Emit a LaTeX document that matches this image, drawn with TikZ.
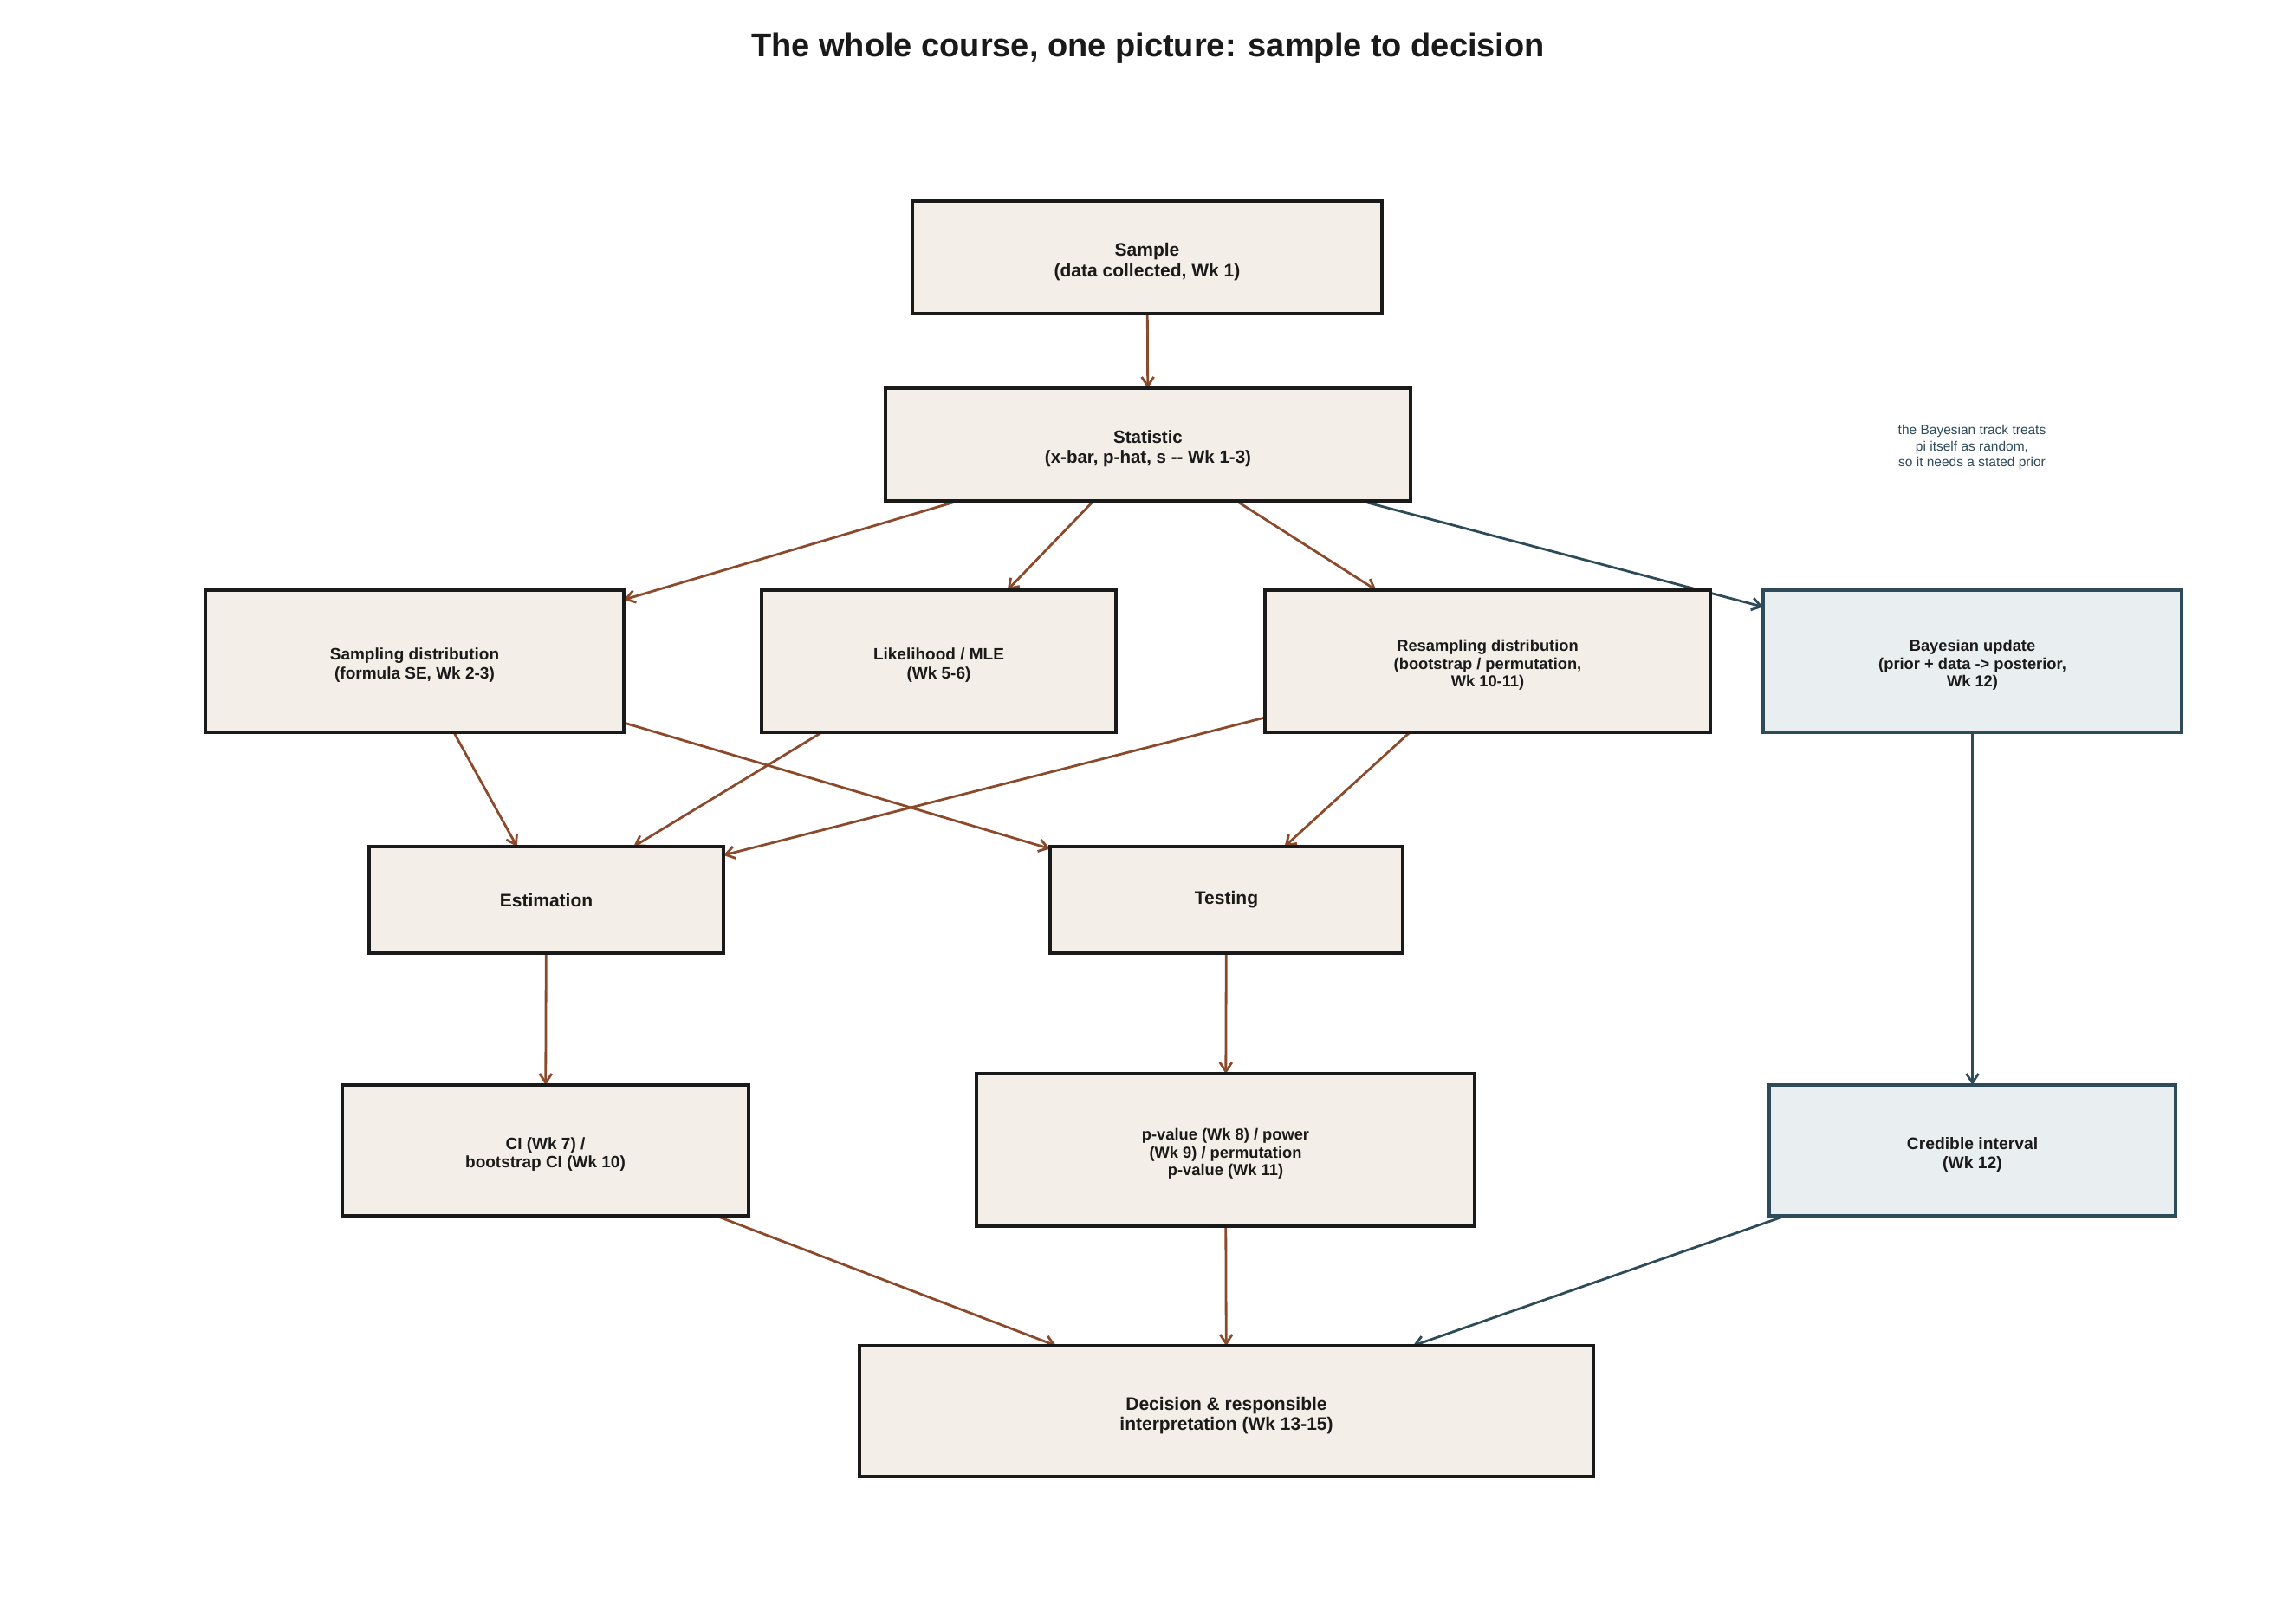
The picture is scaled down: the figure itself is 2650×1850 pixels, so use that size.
\documentclass[tikz,border=0pt]{standalone}
\usepackage{fontspec}
\setmainfont{Liberation Sans}
\usetikzlibrary{arrows.meta}
\pgfdeclarelayer{bg}
\pgfsetlayers{bg,main}
\definecolor{boxfill}{HTML}{F3EEE8}
\definecolor{bayesfill}{HTML}{E9EEF1}
\definecolor{boxline}{HTML}{1A1A1A}
\definecolor{brownarrow}{HTML}{8B4A2B}
\definecolor{slate}{HTML}{2E4B5A}
\definecolor{txt}{HTML}{1A1A1A}
\newcommand\fsz[1]{\fontsize{#1}{\dimexpr #1pt*113/100\relax}\selectfont}
\newcommand\topgap{\rule{0pt}{1.2em}}
\begin{document}
\begin{tikzpicture}[x=1pt,y=-1pt,
  box/.style={draw=boxline, fill=boxfill, line width=3.2pt, inner sep=0pt, outer sep=0pt,
              align=center, text=txt},
  bbox/.style={box, draw=slate, fill=bayesfill},
  fs/.style={font=\bfseries\fsz{#1}},
  ba/.style={draw=brownarrow, line width=2.8pt, -{Straight Barb[length=10.5pt,width=14pt]}},
  sa/.style={ba, draw=slate}
]
\useasboundingbox (0,0) rectangle (2650,1850);

\node[font=\bfseries\fontsize{38}{44}\selectfont, text=txt] (title) at (1325,56)
  {The whole course, one picture: sample to decision};

\node[box, fs=21, minimum width=542pt, minimum height=130pt] (sample) at (1324,297)
  {\topgap Sample\\(data collected, Wk 1)};
\node[box, fs=20.5, minimum width=606pt, minimum height=130pt] (stat) at (1325,513)
  {\topgap Statistic\\(x-bar, p-hat, s -{}- Wk 1-3)};

\node[box, fs=19, minimum width=483pt, minimum height=164pt] (sampdist) at (478.5,763)
  {\topgap Sampling distribution\\(formula SE, Wk 2-3)};
\node[box, fs=19, minimum width=409pt, minimum height=164pt] (lik) at (1083.5,763)
  {\topgap Likelihood / MLE\\(Wk 5-6)};
\node[box, fs=18.3, minimum width=514pt, minimum height=164pt] (resamp) at (1717,763)
  {\topgap Resampling distribution\\(bootstrap / permutation,\\Wk 10-11)};
\node[bbox, fs=18.3, minimum width=483pt, minimum height=164pt] (bayes) at (2276.5,763)
  {\topgap Bayesian update\\(prior + data -> posterior,\\Wk 12)};

\node[box, fs=21, minimum width=409pt, minimum height=123pt] (est) at (630.5,1038.5)
  {Estimation};
\node[box, fs=21, minimum width=407pt, minimum height=123pt] (test) at (1415.5,1038.5)
  {Testing};

\node[box, fs=19, minimum width=469pt, minimum height=151pt] (ci) at (629.5,1327.5)
  {\topgap CI (Wk 7) /\\bootstrap CI (Wk 10)};
\node[box, fs=18.3, minimum width=575pt, minimum height=176pt] (pval) at (1414.5,1327)
  {\topgap p-value (Wk 8) / power\\(Wk 9) / permutation\\p-value (Wk 11)};
\node[bbox, fs=19.3, minimum width=469pt, minimum height=151pt] (cred) at (2276.5,1327.5)
  {\topgap Credible interval\\(Wk 12)};

\node[box, fs=21, minimum width=847pt, minimum height=151pt] (dec) at (1415.5,1628.5)
  {\topgap Decision \& responsible\\interpretation (Wk 13-15)};

\node[text=slate, font=\fontsize{15.5}{18.6}\selectfont, align=center] (note) at (2276,516)
  {the Bayesian track treats\\pi itself as random,\\so it needs a stated prior};

\begin{pgfonlayer}{bg}
\draw[ba] (sample) -- (stat);
\draw[ba] (stat) -- (sampdist);
\draw[ba] (stat) -- (lik);
\draw[ba] (stat) -- (resamp);
\draw[sa] (stat) -- (bayes);
\draw[ba] (sampdist) -- (est);
\draw[ba] (sampdist) -- (test);
\draw[ba] (lik) -- (est);
\draw[ba] (resamp) -- (est);
\draw[ba] (resamp) -- (test);
\draw[sa] (bayes) -- (cred);
\draw[ba] (est) -- (ci);
\draw[ba] (test) -- (pval);
\draw[ba] (ci) -- (dec);
\draw[ba] (pval) -- (dec);
\draw[sa] (cred) -- (dec);
\end{pgfonlayer}
\end{tikzpicture}
\end{document}
